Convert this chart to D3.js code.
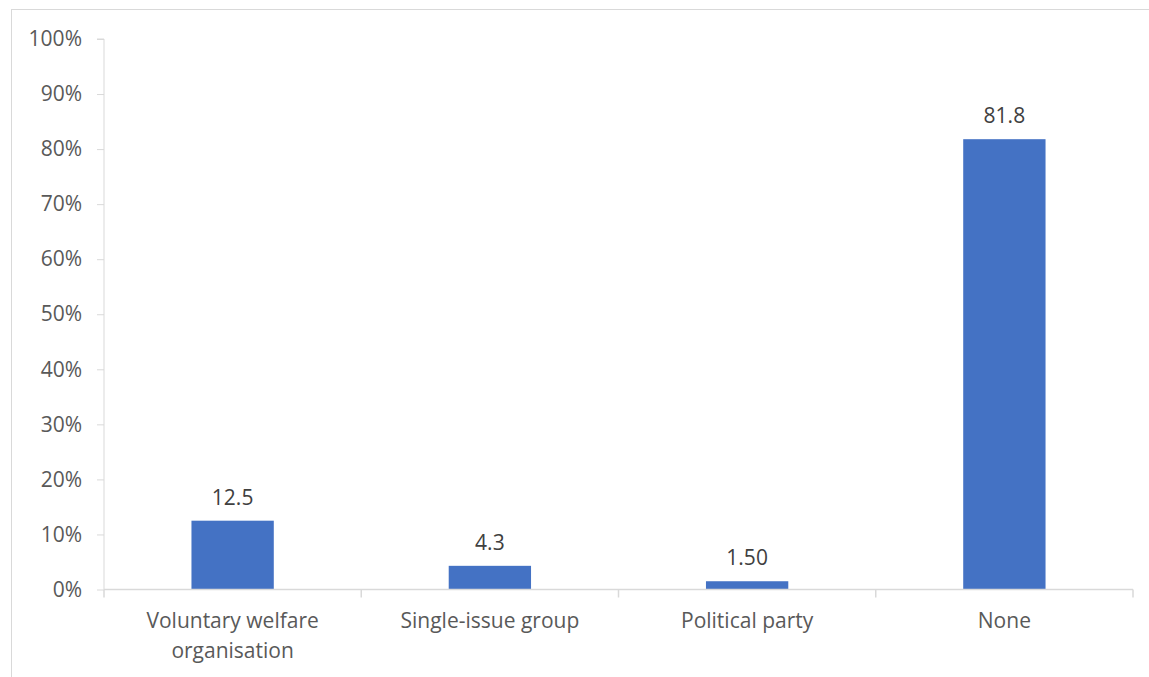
<!DOCTYPE html>
<html>
<head>
<meta charset="utf-8">
<script src="https://cdn.jsdelivr.net/npm/d3@7"></script>
<style>
html,body{margin:0;padding:0;background:#fff;}
svg{display:block;}
</style>
</head>
<body>
<svg id="chart" width="1149" height="677"></svg>
<script>
const categories = [["Voluntary welfare", "organisation"], ["Single-issue group"], ["Political party"], ["None"]];
const values = [12.5, 4.3, 1.5, 81.8];
const valueLabels = ["12.5", "4.3", "1.50", "81.8"];
const yTicks = [0, 10, 20, 30, 40, 50, 60, 70, 80, 90, 100];

(function () {
const svg = d3.select("#chart");
const W = 1149, H = 677;
const mLeft = 104, mRight = 1133, mTop = 39, mBottom = 589.5;
const font = "'Open Sans', 'Segoe UI', sans-serif";
const fs = "21px";
const axisColor = "#d9d9d9";

// outer chart border
svg.append("rect").attr("x", 11.5).attr("y", 9.5).attr("width", W + 10).attr("height", H + 10)
  .attr("fill", "none").attr("stroke", axisColor).attr("stroke-width", 1);

const keys = categories.map((c, i) => i);
const x = d3.scaleBand().domain(keys).range([mLeft, mRight]).paddingInner(0.68).paddingOuter(0.34);
const y = d3.scaleLinear().domain([0, 100]).range([mBottom, mTop]);

// y axis
const yAxis = d3.axisLeft(y).tickValues(yTicks).tickFormat(d => d + "%").tickSize(7).tickPadding(15);
const gy = svg.append("g").attr("transform", `translate(${mLeft},0)`).call(yAxis);
gy.select(".domain").attr("stroke", axisColor).attr("d", `M-7,${mTop}H0V${mBottom}`);
gy.selectAll(".tick line").attr("stroke", axisColor);
gy.selectAll(".tick text").attr("fill", "#595959").style("font-family", font).style("font-size", fs);

// bars
svg.append("g").selectAll("rect").data(values).join("rect")
  .attr("x", (d, i) => x(i))
  .attr("width", x.bandwidth())
  .attr("y", d => y(d))
  .attr("height", d => y(0) - y(d))
  .attr("fill", "#4472C4");

// x axis
const step = x.step();
const gx = svg.append("g");
gx.append("line").attr("x1", mLeft).attr("x2", mRight).attr("y1", mBottom).attr("y2", mBottom)
  .attr("stroke", axisColor).attr("stroke-width", 1.5);
const bounds = d3.range(categories.length + 1).map(i => mLeft + i * step);
bounds.forEach(b => {
  gx.append("line").attr("x1", b).attr("x2", b).attr("y1", mBottom).attr("y2", mBottom + 8)
    .attr("stroke", axisColor).attr("stroke-width", 1.5);
});

// category labels
categories.forEach((lines, i) => {
  const cx = x(i) + x.bandwidth() / 2;
  const t = svg.append("text").attr("x", cx).attr("y", 628)
    .attr("text-anchor", "middle").attr("fill", "#595959")
    .style("font-family", font).style("font-size", fs);
  lines.forEach((ln, j) => {
    t.append("tspan").attr("x", cx).attr("dy", j === 0 ? 0 : 30).text(ln);
  });
});

// data labels
svg.append("g").selectAll("text").data(values).join("text")
  .attr("x", (d, i) => x(i) + x.bandwidth() / 2)
  .attr("y", d => y(d) - 16)
  .attr("text-anchor", "middle")
  .attr("fill", "#404040")
  .style("font-family", font).style("font-size", fs)
  .text((d, i) => valueLabels[i]);
})();
</script>
</body>
</html>
